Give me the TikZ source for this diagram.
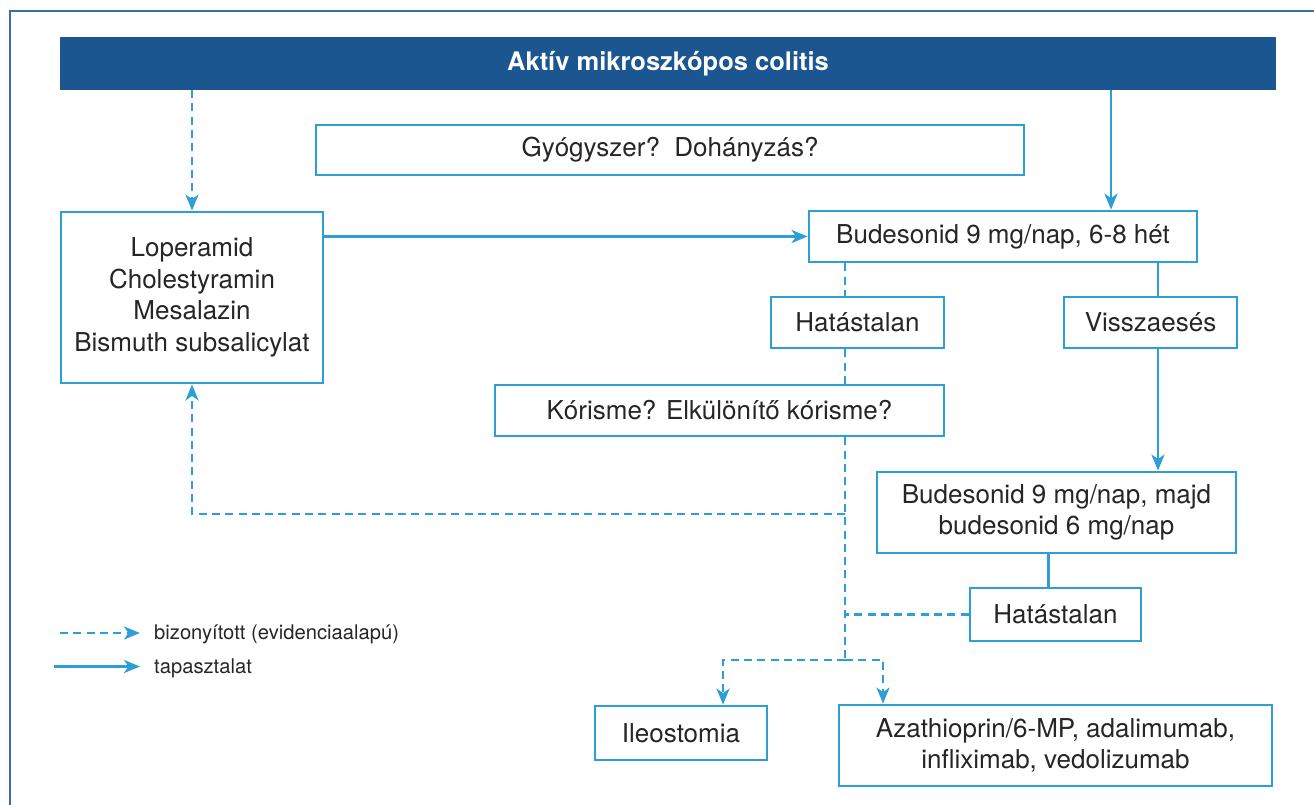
\documentclass[tikz,border=0pt]{standalone}
\usepackage{fontspec}
\setmainfont{TeX Gyre Heros}
\usetikzlibrary{arrows.meta}
\definecolor{lb}{HTML}{2E9FD6}
\definecolor{titlec}{HTML}{1B5690}
\definecolor{tc}{HTML}{262626}
\definecolor{framec}{HTML}{3A6EA5}
\newcommand{\bodyf}{\fontsize{26}{31.6}\selectfont}
\newcommand{\legf}{\fontsize{20.2}{24}\selectfont}
\tikzset{
  box/.style={draw=lb, line width=2.8pt, fill=white, text=tc, inner sep=0pt, align=center, font=\bodyf},
  conn/.style={draw=lb, line width=2.8pt},
  dsh/.style={conn, dash pattern=on 8pt off 5.3pt},
  arr/.style={-{Stealth[length=16pt,width=13pt,inset=4.5pt]}},
}
\begin{document}
\begin{tikzpicture}[x=1pt,y=-1pt]
\useasboundingbox (0,0) rectangle (1314,805);
\draw[framec, line width=1.5pt] (10,805) -- (10,11) -- (1314,11);

\node[fill=titlec, text=white, minimum width=1216pt, minimum height=53pt, inner sep=0pt, font=\fontsize{25.5}{30}\selectfont\bfseries] (title) at (668,63.5) {Aktív mikroszkópos colitis};
\node[box, minimum width=708pt, minimum height=50pt] (gyog) at (670,150) {Gyógyszer?\ \ Dohányzás?};
\node[box, minimum width=262pt, minimum height=171pt] (left) at (192,297.5) {Loperamid\\Cholestyramin\\Mesalazin\\Bismuth subsalicylat};
\node[box, minimum width=388pt, minimum height=51pt] (bud1) at (1003,236.5) {Budesonid 9 mg/nap, 6-8 hét};
\node[box, minimum width=173pt, minimum height=51pt] (hat1) at (857.5,322.5) {Hatástalan};
\node[box, minimum width=173pt, minimum height=51pt] (vissz) at (1150.5,322.5) {Visszaesés};
\node[box, minimum width=449pt, minimum height=51pt] (kor) at (719.5,410.5) {Kórisme? Elkülönítő kórisme?};
\node[box, minimum width=359pt, minimum height=81pt] (bud2) at (1056.5,512.5) {Budesonid 9 mg/nap, majd\\budesonid 6 mg/nap};
\node[box, minimum width=171pt, minimum height=53pt] (hat2) at (1055.5,614.5) {Hatástalan};
\node[box, minimum width=172pt, minimum height=54pt] (ileo) at (681,733) {Ileostomia};
\node[box, minimum width=433pt, minimum height=81pt] (aza) at (1055.5,745.5) {Azathioprin/6-MP, adalimumab,\\infliximab, vedolizumab};

\coordinate (cx) at (845,0);
\coordinate (jn) at (845,660);
\coordinate (k1) at (845,514);
\coordinate (rx) at (1111,0);
\coordinate (vx) at (1158,0);
\coordinate (hx) at (1048.5,0);

% dashed (evidence)
\draw[dsh,arr] (title.south -| left.north) -- (left.north);
\draw[dsh] (bud1.south -| cx) -- (hat1.north -| cx);
\draw[dsh] (hat1.south -| cx) -- (kor.north -| cx);
\draw[dsh] (kor.south -| cx) -- (jn);
\draw[dsh,arr] (k1) -| (left.south);
\draw[dsh] (hat2.west) -- (hat2.west -| cx);
\draw[dsh,arr] (jn) -| ([xshift=42pt]ileo.north);
\draw[dsh,arr] (jn) -| ([xshift=-172.5pt]aza.north);

% solid (experience)
\draw[conn,arr] (title.south -| rx) -- (bud1.north -| rx);
\draw[conn,arr] (left.east |- bud1.west) -- (bud1.west);
\draw[conn] (bud1.south -| vx) -- (vissz.north -| vx);
\draw[conn,arr] (vissz.south -| vx) -- (bud2.north -| vx);
\draw[conn] (bud2.south -| hx) -- (hat2.north -| hx);

% legend
\coordinate (l1a) at (60,633);
\coordinate (l1b) at (140,633);
\coordinate (l2a) at (54,666.5);
\coordinate (l2b) at (140,666.5);
\draw[dsh,arr] (l1a) -- (l1b);
\draw[conn,arr] (l2a) -- (l2b);
\node[anchor=base west, text=tc, font=\legf, inner sep=0pt] (lt1) at (154,639) {bizonyított (evidenciaalapú)};
\node[anchor=base west, text=tc, font=\legf, inner sep=0pt] (lt2) at (154,673) {tapasztalat};
\end{tikzpicture}
\end{document}
